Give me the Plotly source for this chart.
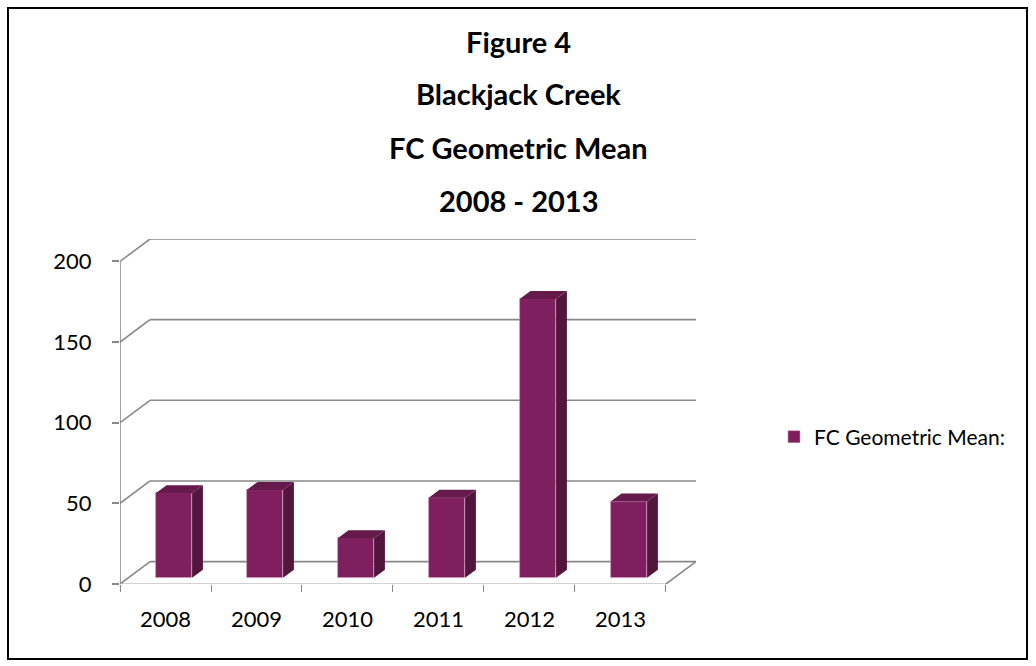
import plotly.graph_objects as go

# ---- data ----
years = ["2008", "2009", "2010", "2011", "2012", "2013"]
fc_geomean = [52.4, 54.4, 24.4, 49.6, 172.8, 47.2]
y_ticks = [0, 50, 100, 150, 200]
title_lines = ["Figure 4", "Blackjack Creek", "FC Geometric Mean", "2008 - 2013"]
series_name = "FC Geometric Mean:"

# ---- style ----
FRONT = "#7f1f5f"
SIDE = "#52153c"
TOP = "#66194b"
EDGE = "rgba(214,150,190,0.7)"
GRID = "#888888"
FONT = "Lato"

W, H = 1036, 666
L, R, T, B = 120, 340, 239, 82
PW, PH = W - L - R, H - T - B

# oblique 3-D projection: depth shift expressed in axis units
DX = 0.33      # along the category axis
DY = 13.9      # along the value axis
BAR_W = 0.40
D0, D1 = 0.28, 0.64   # bar front / back as a fraction of the floor depth

n = len(years)
y_top = max(y_ticks)


def px_x(p):
    return (p - L) / PW


def px_y(p):
    return (H - B - p) / PH


fig = go.Figure()

# front faces of the columns
base = D0 * DY
centers = [i + 0.5 + D0 * DX for i in range(n)]
fig.add_trace(go.Bar(
    x=centers, y=fc_geomean, base=[base] * n, width=BAR_W,
    marker=dict(color=FRONT, line=dict(width=0.8, color=EDGE)),
    name=series_name, showlegend=True,
))

# side and top faces
ddx, ddy = (D1 - D0) * DX, (D1 - D0) * DY
sx, sy, tx, ty = [], [], [], []
for c, v in zip(centers, fc_geomean):
    xl, xr = c - BAR_W / 2, c + BAR_W / 2
    top = base + v
    sx += [xr, xr + ddx, xr + ddx, xr, xr, None]
    sy += [base, base + ddy, top + ddy, top, base, None]
    tx += [xl, xr, xr + ddx, xl + ddx, xl, None]
    ty += [top, top, top + ddy, top + ddy, top, None]
fig.add_trace(go.Scatter(x=sx, y=sy, mode="lines", fill="toself", fillcolor=SIDE,
                         line=dict(width=0, color=SIDE), showlegend=False, hoverinfo="skip"))
fig.add_trace(go.Scatter(x=tx, y=ty, mode="lines", fill="toself", fillcolor=TOP,
                         line=dict(width=0, color=TOP), showlegend=False, hoverinfo="skip"))

# walls, floor and gridlines
shapes = []
for v in y_ticks:
    shapes.append(dict(type="line", xref="x", yref="y", x0=0, y0=v, x1=DX, y1=v + DY,
                       line=dict(color=GRID, width=1.6), layer="below"))
    shapes.append(dict(type="line", xref="x", yref="y", x0=DX, y0=v + DY, x1=n + DX, y1=v + DY,
                       line=dict(color=GRID, width=1.6), layer="below"))
shapes.append(dict(type="line", xref="x", yref="y", x0=0, y0=0, x1=0, y1=y_top,
                   line=dict(color=GRID, width=1.6), layer="below"))
shapes.append(dict(type="line", xref="x", yref="y", x0=0, y0=0, x1=n, y1=0,
                   line=dict(color="#a6a6a6", width=1.2), layer="below"))
shapes.append(dict(type="line", xref="x", yref="y", x0=n, y0=0, x1=n + DX, y1=DY,
                   line=dict(color=GRID, width=1.6), layer="below"))
# chart frame
shapes.append(dict(type="rect", xref="paper", yref="paper",
                   x0=px_x(8), x1=px_x(1027), y0=px_y(659), y1=px_y(8),
                   line=dict(color="black", width=2), layer="below"))

# title lines
annotations = []
for k, line in enumerate(title_lines):
    annotations.append(dict(text=line, xref="paper", yref="paper",
                            x=px_x(518), y=px_y(41 + 53 * k), showarrow=False,
                            xanchor="center", yanchor="middle",
                            font=dict(family=FONT, size=29, color="black", weight="bold")))

fig.update_layout(
    width=W, height=H, autosize=False,
    margin=dict(l=L, r=R, t=T, b=B, pad=0),
    paper_bgcolor="white", plot_bgcolor="white",
    shapes=shapes, annotations=annotations,
    font=dict(family=FONT, color="black"),
    xaxis=dict(range=[0, n + DX], tickmode="array",
               tickvals=[i + 0.5 for i in range(n)], ticktext=years,
               ticks="", showgrid=False, zeroline=False, showline=False,
               tickfont=dict(size=22), ticklabelstandoff=20,
               minor=dict(tickmode="array", tickvals=list(range(n + 1)),
                          ticks="outside", ticklen=7, tickcolor=GRID, tickwidth=1.2,
                          showgrid=False),
               fixedrange=True),
    yaxis=dict(range=[0, y_top + DY], tickmode="array", tickvals=y_ticks,
               ticks="outside", ticklen=7, tickcolor=GRID, tickwidth=1.6,
               showgrid=False, zeroline=False, showline=False,
               tickfont=dict(size=22), ticklabelstandoff=16, fixedrange=True),
    legend=dict(x=px_x(774), y=px_y(437), xanchor="left", yanchor="middle",
                font=dict(family=FONT, size=21), bgcolor="rgba(0,0,0,0)"),
    bargap=0,
)

fig.write_html("out.html")
